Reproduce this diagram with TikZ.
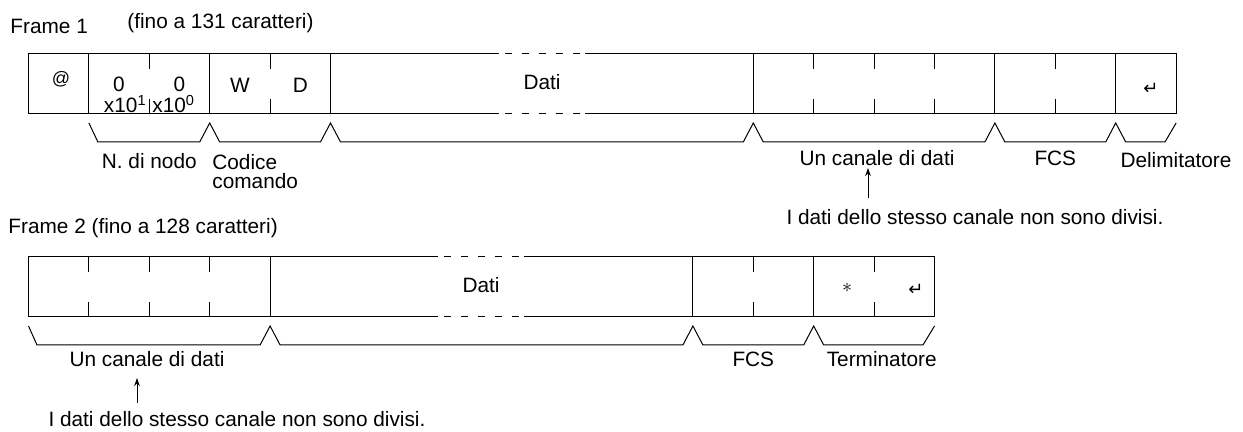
\documentclass[tikz,border=0pt]{standalone}
\usepackage{fontspec}
\setmainfont{Liberation Sans}
\newfontfamily\arrowfont{DejaVu Sans}
\usetikzlibrary{arrows.meta}

\begin{document}
\begin{tikzpicture}[x=0.5pt,y=-0.5pt]
        \tikzset{frameline/.style={line width=0.5pt},
        gapline/.style={line width=0.5pt,dash pattern=on 3.5pt off 5pt},
        lbl/.style={anchor=base,inner sep=0pt,font=\fontsize{10.4}{12}\selectfont},
        enterkey/.style={inner sep=0pt,font=\arrowfont\fontsize{9}{10}\selectfont},
        pointer/.style={line width=0.5pt,-{Stealth[length=4pt,width=2.8pt]}}}
        \useasboundingbox (0,0) rectangle (1243,432);
        \node[lbl,anchor=base west] (title1) at (10,34) {Frame 1};
        \node[lbl,anchor=base west] (size1) at (127,29) {(fino a 131 caratteri)};
        \draw[frameline] (499,54) -- (28.5,54) -- (28.5,114) -- (499,114);
        \draw[frameline] (585,54) -- (1176.1,54) -- (1176.1,114) -- (585,114);
        \draw[gapline] (505,54) -- (582,54);
        \draw[gapline] (505,114) -- (582,114);
        \foreach \k in {1,3,5,12,16,18}
          \draw[frameline] ({28.5+60.4*\k},54) -- ({28.5+60.4*\k},114);
        \foreach \k in {2,4,13,14,15,17}{
          \draw[frameline] ({28.5+60.4*\k},54) -- ({28.5+60.4*\k},69);
          \draw[frameline] ({28.5+60.4*\k},99) -- ({28.5+60.4*\k},114);}
        \node[lbl,font=\fontsize{9}{10}\selectfont] (at) at (61,85) {@};
        \node[lbl] (d1) at (119,92) {0};
        \node[lbl] (d0) at (179.5,92) {0};
        \node[lbl,anchor=base east] (e1) at (147,113) {x10\textsuperscript{1}};
        \node[lbl,anchor=base west] (e0) at (152,113) {x10\textsuperscript{0}};
        \node[lbl] (w) at (240,93) {W};
        \node[lbl] (d) at (300.3,93) {D};
        \node[lbl] (dati1) at (542,90) {Dati};
        \node[enterkey] (cr1) at (1151,89) {↵};
        \draw[frameline] (88.9,123) -- (97.9,142) -- (199.7,142) -- (209.7,123)
          -- (219.7,142) -- (320.5,142) -- (330.5,123) -- (340.5,142)
          -- (743.3,142) -- (753.3,123) -- (763.3,142) -- (984.9,142)
          -- (994.9,123) -- (1004.9,142) -- (1105.7,142) -- (1115.7,123)
          -- (1125.7,142) -- (1165,142) -- (1176.1,123);
        \node[lbl] (node) at (149.3,169) {N. di nodo};
        \node[lbl,anchor=north west,align=left] (cmd) at (212,154) {Codice\\[-2.5pt]comando};
        \node[lbl] (chan1) at (877,166) {Un canale di dati};
        \node[lbl] (fcs1) at (1055.3,166) {FCS};
        \node[lbl] (delim) at (1176,168) {Delimitatore};
        \node[lbl] (note1) at (975,225) {I dati dello stesso canale non sono divisi.};
        \coordinate (tail1) at (868,198);
        \coordinate (tip1) at (868,168);
        \draw[pointer] (tail1) -- (tip1);
        \node[lbl,anchor=base west] (title2) at (8,234) {Frame 2 (fino a 128 caratteri)};
        \draw[frameline] (438,257) -- (28.5,257) -- (28.5,317) -- (438,317);
        \draw[frameline] (524,257) -- (934.5,257) -- (934.5,317) -- (524,317);
        \draw[gapline] (444,257) -- (521,257);
        \draw[gapline] (444,317) -- (521,317);
        \foreach \k in {4,11,13}
          \draw[frameline] ({28.5+60.4*\k},257) -- ({28.5+60.4*\k},317);
        \foreach \k in {1,2,3,12,14}{
          \draw[frameline] ({28.5+60.4*\k},257) -- ({28.5+60.4*\k},272);
          \draw[frameline] ({28.5+60.4*\k},302) -- ({28.5+60.4*\k},317);}
        \node[lbl] (dati2) at (481,293) {Dati};
        \node[inner sep=0pt] (star) at (847,288) {$\ast$};
        \node[enterkey] (cr2) at (916,290) {↵};
        \draw[frameline] (28.5,326) -- (37,345) -- (260.1,345) -- (270.1,326)
          -- (280.1,345) -- (682.9,345) -- (692.9,326) -- (702.9,345)
          -- (803.7,345) -- (813.7,326) -- (823.7,345) -- (923,345) -- (934.5,326);
        \node[lbl] (chan2) at (147,367) {Un canale di dati};
        \node[lbl] (fcs2) at (753.3,367) {FCS};
        \node[lbl,anchor=base east] (term) at (937,367) {Terminatore};
        \node[lbl] (note2) at (237,427) {I dati dello stesso canale non sono divisi.};
        \coordinate (tail2) at (137,403);
        \coordinate (tip2) at (137,378);
        \draw[pointer] (tail2) -- (tip2);
    \end{tikzpicture}
\end{document}
